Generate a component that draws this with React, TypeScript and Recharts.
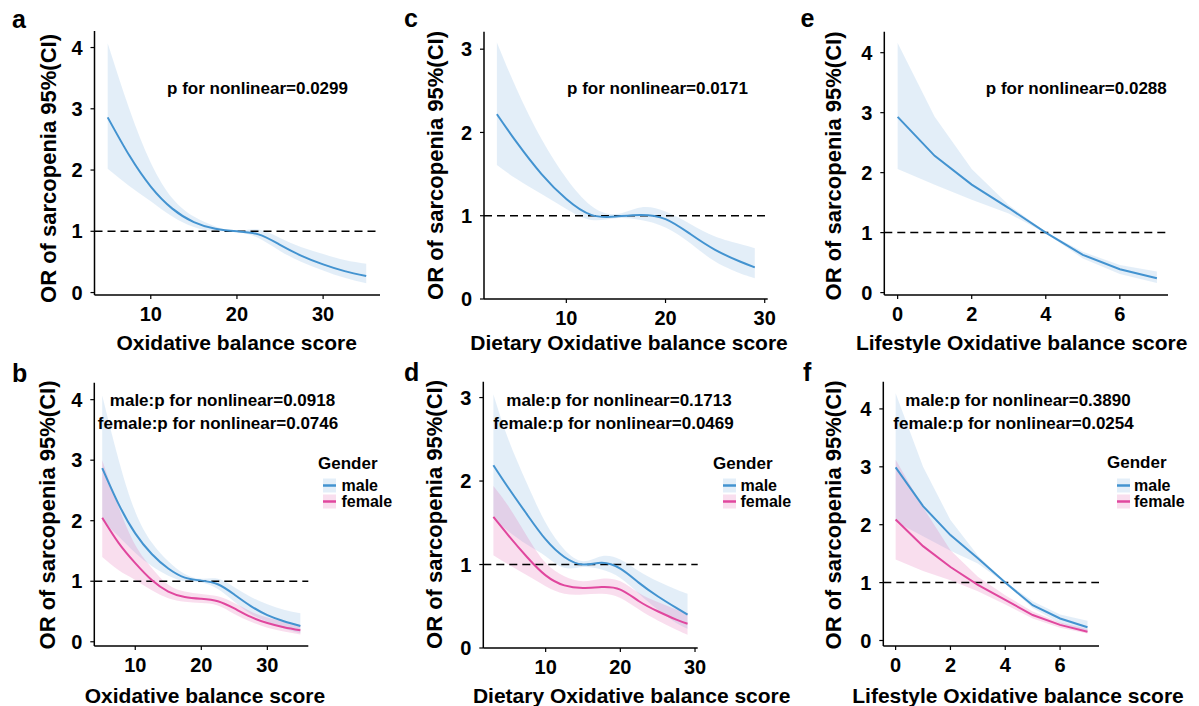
import React from 'react';
import { ComposedChart, Area, Line, XAxis, YAxis, ReferenceLine } from 'recharts';

// ---- data ----
const obsX = [5, 7.5, 10, 12.5, 15, 17.5, 20, 22.5, 25, 27.5, 30, 32.5, 35];
const dietX = [3, 5, 7.5, 10, 12.5, 15, 17.5, 20, 22.5, 25, 27.5, 29];
const lifeX = [0, 1, 2, 3, 4, 5, 6, 7];

// a: overall OBS
const obsEst = [2.86, 2.24, 1.73, 1.37, 1.15, 1.04, 1.0, 0.95, 0.78, 0.6, 0.46, 0.35, 0.27];
const obsLo = [2.02, 1.74, 1.49, 1.24, 1.07, 1.0, 0.99, 0.89, 0.68, 0.5, 0.36, 0.24, 0.15];
const obsHi = [4.07, 3.0, 2.12, 1.54, 1.24, 1.08, 1.01, 1.03, 0.89, 0.74, 0.63, 0.53, 0.47];

// c: overall dietary OBS
const dietEst = [2.22, 1.88, 1.5, 1.2, 1.01, 0.99, 1.01, 0.96, 0.78, 0.59, 0.45, 0.38];
const dietLo = [1.61, 1.44, 1.26, 1.08, 0.95, 0.97, 0.95, 0.86, 0.67, 0.45, 0.31, 0.25];
const dietHi = [3.08, 2.52, 1.92, 1.45, 1.12, 1.02, 1.1, 1.05, 0.9, 0.75, 0.66, 0.61];

// e: overall lifestyle OBS
const lifeEst = [2.93, 2.28, 1.8, 1.41, 1.0, 0.63, 0.39, 0.24];
const lifeLo = [2.06, 1.8, 1.55, 1.32, 0.99, 0.57, 0.31, 0.16];
const lifeHi = [4.16, 2.93, 2.06, 1.46, 1.01, 0.68, 0.46, 0.35];

// b: OBS by gender
const obsMale = [2.87, 2.27, 1.79, 1.45, 1.21, 1.06, 1.01, 0.95, 0.78, 0.59, 0.44, 0.34, 0.26];
const obsMaleLo = [2.0, 1.74, 1.47, 1.25, 1.09, 1.0, 0.98, 0.87, 0.66, 0.46, 0.33, 0.22, 0.14];
const obsMaleHi = [4.07, 3.0, 2.15, 1.64, 1.33, 1.12, 1.04, 1.04, 0.9, 0.74, 0.62, 0.53, 0.47];
const obsFemale = [2.05, 1.63, 1.3, 1.02, 0.83, 0.74, 0.71, 0.67, 0.55, 0.41, 0.31, 0.24, 0.19];
const obsFemaleLo = [1.4, 1.18, 1.02, 0.85, 0.72, 0.66, 0.64, 0.6, 0.46, 0.33, 0.23, 0.17, 0.12];
const obsFemaleHi = [3.0, 2.22, 1.6, 1.22, 0.94, 0.83, 0.79, 0.75, 0.64, 0.5, 0.4, 0.33, 0.28];

// d: dietary OBS by gender
const dietMale = [2.19, 1.92, 1.6, 1.3, 1.09, 1.0, 1.02, 0.95, 0.78, 0.62, 0.48, 0.4];
const dietMaleLo = [1.55, 1.4, 1.24, 1.1, 0.96, 0.97, 0.94, 0.84, 0.65, 0.46, 0.3, 0.23];
const dietMaleHi = [3.04, 2.5, 1.97, 1.5, 1.18, 1.04, 1.1, 1.06, 0.92, 0.8, 0.7, 0.65];
const dietFemale = [1.57, 1.35, 1.09, 0.87, 0.75, 0.72, 0.73, 0.7, 0.56, 0.44, 0.34, 0.29];
const dietFemaleLo = [1.11, 1.0, 0.87, 0.74, 0.65, 0.64, 0.65, 0.6, 0.46, 0.33, 0.22, 0.16];
const dietFemaleHi = [1.94, 1.7, 1.34, 1.02, 0.86, 0.8, 0.83, 0.8, 0.66, 0.55, 0.46, 0.42];

// f: lifestyle OBS by gender
const lifeMale = [2.99, 2.32, 1.82, 1.42, 1.0, 0.61, 0.38, 0.23];
const lifeMaleLo = [2.05, 1.8, 1.55, 1.33, 0.99, 0.56, 0.3, 0.15];
const lifeMaleHi = [4.27, 3.0, 2.08, 1.47, 1.01, 0.68, 0.45, 0.34];
const lifeFemale = [2.09, 1.63, 1.27, 0.96, 0.7, 0.44, 0.27, 0.15];
const lifeFemaleLo = [1.4, 1.2, 1.04, 0.85, 0.62, 0.38, 0.22, 0.12];
const lifeFemaleHi = [3.12, 2.3, 1.56, 1.1, 0.78, 0.5, 0.31, 0.2];

const FONT = '"Liberation Sans", Arial, Helvetica, sans-serif';
const BLUE = '#4393D0';
const PINK = '#E0479E';
const BLUE_FILL = '#5B9BD5';
const PINK_FILL = '#E0479E';

const single = (xs: number[], est: number[], lo: number[], hi: number[]) =>
  xs.map((x, i) => ({ x, male: est[i], maleBand: [lo[i], hi[i]] }));

const byGender = (
  xs: number[],
  m: number[], mLo: number[], mHi: number[],
  f: number[], fLo: number[], fHi: number[]
) =>
  xs.map((x, i) => ({
    x,
    male: m[i],
    maleBand: [mLo[i], mHi[i]],
    female: f[i],
    femaleBand: [fLo[i], fHi[i]],
  }));

const Y_TITLE = 'OR of sarcopenia 95%(CI)';

const panels = [
  {
    id: 'a', frame: { left: 0, top: 0, width: 400, height: 353 },
    plot: { L: 94.5, R: 380, T: 31, B: 295 },
    xDomain: [3.47, 36.6], xTicks: [10, 20, 30], yDomain: [-0.04, 4.27], yTicks: [0, 1, 2, 3, 4],
    rows: single(obsX, obsEst, obsLo, obsHi), gender: false, curve: 'natural',
    letter: { x: 12, y: 28 }, yTitle: { x: 55.5, y: 168.5 },
    xTitle: { text: 'Oxidative balance score', x: 236.7, y: 350 },
    notes: [{ text: 'p for nonlinear=0.0299', x: 257.5, y: 94 }],
  },
  {
    id: 'c', frame: { left: 400, top: 0, width: 400, height: 353 },
    plot: { L: 484, R: 767.7, T: 31.7, B: 299 },
    xDomain: [1.7, 30.3], xTicks: [10, 20, 30], yDomain: [0, 3.21], yTicks: [0, 1, 2, 3],
    rows: single(dietX, dietEst, dietLo, dietHi), gender: false, curve: 'natural',
    letter: { x: 404, y: 27 }, yTitle: { x: 442.5, y: 165.5 },
    xTitle: { text: 'Dietary Oxidative balance score', x: 629, y: 350 },
    notes: [{ text: 'p for nonlinear=0.0171', x: 657.5, y: 94 }],
  },
  {
    id: 'e', frame: { left: 800, top: 0, width: 399, height: 353 },
    plot: { L: 884.3, R: 1168, T: 31.7, B: 295 },
    xDomain: [-0.36, 7.3], xTicks: [0, 2, 4, 6], yDomain: [-0.04, 4.35], yTicks: [0, 1, 2, 3, 4],
    rows: single(lifeX, lifeEst, lifeLo, lifeHi), gender: false, curve: 'linear',
    letter: { x: 800.5, y: 27 }, yTitle: { x: 841, y: 166 },
    xTitle: { text: 'Lifestyle Oxidative balance score', x: 1021.7, y: 350 },
    notes: [{ text: 'p for nonlinear=0.0288', x: 1076.3, y: 94 }],
  },
  {
    id: 'b', frame: { left: 0, top: 353, width: 400, height: 353 },
    plot: { L: 94.3, R: 308.3, T: 382.7, B: 646 },
    xDomain: [3.8, 36.2], xTicks: [10, 20, 30], yDomain: [-0.07, 4.28], yTicks: [0, 1, 2, 3, 4],
    rows: byGender(obsX, obsMale, obsMaleLo, obsMaleHi, obsFemale, obsFemaleLo, obsFemaleHi),
    gender: true, curve: 'natural',
    letter: { x: 12, y: 382 }, yTitle: { x: 55, y: 515 },
    xTitle: { text: 'Oxidative balance score', x: 205, y: 703 },
    notes: [
      { text: 'male:p for nonlinear=0.0918', x: 222.5, y: 405.5 },
      { text: 'female:p for nonlinear=0.0746', x: 218, y: 428.5 },
    ],
    legend: { gx: 318, gy: 469, keyX: 323, textX: 341.5 },
  },
  {
    id: 'd', frame: { left: 400, top: 353, width: 400, height: 353 },
    plot: { L: 483.3, R: 697.7, T: 381.7, B: 648 },
    xDomain: [1.65, 30.36], xTicks: [10, 20, 30], yDomain: [0, 3.19], yTicks: [0, 1, 2, 3],
    rows: byGender(dietX, dietMale, dietMaleLo, dietMaleHi, dietFemale, dietFemaleLo, dietFemaleHi),
    gender: true, curve: 'natural',
    letter: { x: 404, y: 381 }, yTitle: { x: 442, y: 514.5 },
    xTitle: { text: 'Dietary Oxidative balance score', x: 631.7, y: 703 },
    notes: [
      { text: 'male:p for nonlinear=0.1713', x: 619, y: 405.5 },
      { text: 'female:p for nonlinear=0.0469', x: 613.5, y: 428.5 },
    ],
    legend: { gx: 713, gy: 469, keyX: 723, textX: 740.5 },
  },
  {
    id: 'f', frame: { left: 800, top: 353, width: 399, height: 353 },
    plot: { L: 883.3, R: 1099, T: 381.7, B: 646 },
    xDomain: [-0.45, 7.42], xTicks: [0, 2, 4, 6], yDomain: [-0.095, 4.47], yTicks: [0, 1, 2, 3, 4],
    rows: byGender(lifeX, lifeMale, lifeMaleLo, lifeMaleHi, lifeFemale, lifeFemaleLo, lifeFemaleHi),
    gender: true, curve: 'linear',
    letter: { x: 803, y: 381 }, yTitle: { x: 841, y: 515 },
    xTitle: { text: 'Lifestyle Oxidative balance score', x: 1018, y: 703 },
    notes: [
      { text: 'male:p for nonlinear=0.3890', x: 1018, y: 405.5 },
      { text: 'female:p for nonlinear=0.0254', x: 1013.5, y: 428.5 },
    ],
    legend: { gx: 1107, gy: 468, keyX: 1117, textX: 1134 },
  },
];

const Y_AXIS_W = 50;
const X_AXIS_H = 40;

const tickStyle = { fill: '#000', fontSize: 20, fontWeight: 'bold', fontFamily: FONT };

function Panel({ p }: { p: any }) {
  const { frame, plot } = p;
  const margin = {
    left: plot.L - frame.left - Y_AXIS_W,
    right: frame.left + frame.width - plot.R,
    top: plot.T - frame.top,
    bottom: frame.top + frame.height - plot.B - X_AXIS_H,
  };
  const ox = frame.left;
  const oy = frame.top;
  const txt = { fontFamily: FONT, fontWeight: 'bold', fill: '#000' } as const;

  return (
    <div style={{ position: 'absolute', left: frame.left, top: frame.top, width: frame.width, height: frame.height }}>
      <ComposedChart width={frame.width} height={frame.height} data={p.rows} margin={margin}>
        <XAxis
          type="number"
          dataKey="x"
          domain={p.xDomain}
          ticks={p.xTicks}
          interval={0}
          allowDataOverflow
          height={X_AXIS_H}
          tickSize={4}
          tickMargin={8}
          axisLine={{ stroke: '#000', strokeWidth: 1.5 }}
          tickLine={{ stroke: '#000', strokeWidth: 1.2 }}
          tick={tickStyle}
        />
        <YAxis
          type="number"
          domain={p.yDomain}
          ticks={p.yTicks}
          interval={0}
          allowDataOverflow
          width={Y_AXIS_W}
          tickSize={4}
          tickMargin={8}
          axisLine={{ stroke: '#000', strokeWidth: 1.5 }}
          tickLine={{ stroke: '#000', strokeWidth: 1.2 }}
          tick={tickStyle}
        />
        <Area
          type={p.curve}
          dataKey="maleBand"
          stroke="none"
          fill={BLUE_FILL}
          fillOpacity={0.17}
          dot={false}
          activeDot={false}
          isAnimationActive={false}
        />
        {p.gender && (
          <Area
            type={p.curve}
            dataKey="femaleBand"
            stroke="none"
            fill={PINK_FILL}
            fillOpacity={0.18}
            dot={false}
            activeDot={false}
            isAnimationActive={false}
          />
        )}
        <ReferenceLine y={1} stroke="#000" strokeWidth={1.5} strokeDasharray="8 5" />
        <Line
          type={p.curve}
          dataKey="male"
          stroke={BLUE}
          strokeWidth={2}
          dot={false}
          activeDot={false}
          isAnimationActive={false}
        />
        {p.gender && (
          <Line
            type={p.curve}
            dataKey="female"
            stroke={PINK}
            strokeWidth={2}
            dot={false}
            activeDot={false}
            isAnimationActive={false}
          />
        )}
      </ComposedChart>

      {/* titles, annotations and legend */}
      <svg
        width={frame.width}
        height={frame.height}
        style={{ position: 'absolute', left: 0, top: 0, pointerEvents: 'none' }}
      >
        <text x={p.letter.x - ox} y={p.letter.y - oy} fontSize={25} {...txt}>{p.id}</text>
        <text
          x={p.yTitle.x - ox}
          y={p.yTitle.y - oy}
          fontSize={22}
          textAnchor="middle"
          transform={`rotate(-90, ${p.yTitle.x - ox}, ${p.yTitle.y - oy})`}
          {...txt}
        >
          {Y_TITLE}
        </text>
        <text x={p.xTitle.x - ox} y={p.xTitle.y - oy} fontSize={21} textAnchor="middle" {...txt}>
          {p.xTitle.text}
        </text>
        {p.notes.map((n: any) => (
          <text key={n.text} x={n.x - ox} y={n.y - oy} fontSize={17} textAnchor="middle" {...txt}>
            {n.text}
          </text>
        ))}
        {p.legend && (
          <g>
            <text x={p.legend.gx - ox} y={p.legend.gy - oy} fontSize={17} {...txt}>Gender</text>
            {[
              { label: 'male', color: BLUE, fill: BLUE_FILL, op: 0.17, ly: 485.5, ty: 490.5 },
              { label: 'female', color: PINK, fill: PINK_FILL, op: 0.18, ly: 501.5, ty: 507 },
            ].map((k) => (
              <g key={k.label}>
                <rect x={p.legend.keyX - ox} y={k.ly - 7 - oy} width={13} height={14} fill={k.fill} fillOpacity={k.op} />
                <line
                  x1={p.legend.keyX - ox}
                  x2={p.legend.keyX + 13 - ox}
                  y1={k.ly - oy}
                  y2={k.ly - oy}
                  stroke={k.color}
                  strokeWidth={2.5}
                />
                <text x={p.legend.textX - ox} y={k.ty - oy} fontSize={16} {...txt}>{k.label}</text>
              </g>
            ))}
          </g>
        )}
      </svg>
    </div>
  );
}

export default function App() {
  return (
    <div style={{ position: 'absolute', left: 0, top: 0, width: 1199, height: 706, background: '#fff', overflow: 'hidden' }}>
      {panels.map((p) => (
        <Panel key={p.id} p={p} />
      ))}
    </div>
  );
}
